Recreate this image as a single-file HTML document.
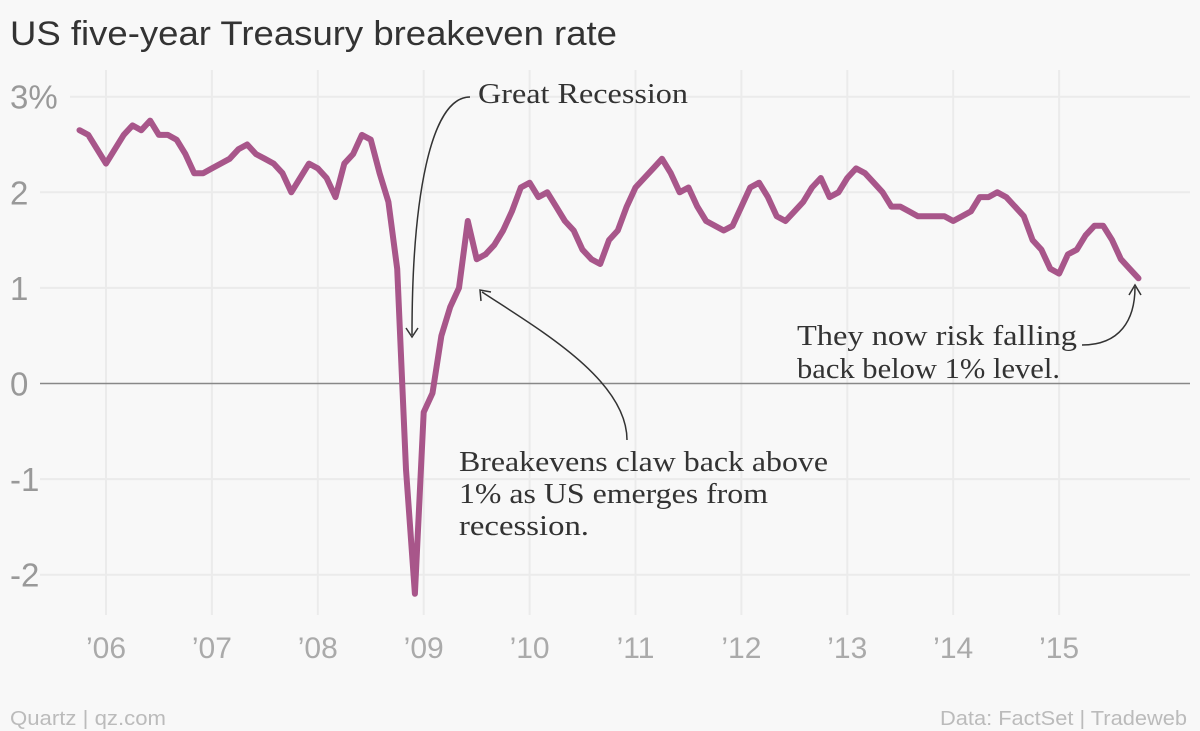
<!DOCTYPE html>
<html><head><meta charset="utf-8"><style>
body{margin:0;background:#f8f8f8;}
svg{display:block;font-family:"Liberation Sans",sans-serif;}
</style></head><body>
<svg id="chart" width="1200" height="731">
<rect width="1200" height="731" fill="#f8f8f8"/>
<text x="10" y="45" font-size="34" fill="#333" textLength="607" lengthAdjust="spacingAndGlyphs">US five-year Treasury breakeven rate</text>
<g id="grid"></g>
<g id="series"></g>
<g id="ann" font-family="Liberation Serif, serif" font-size="29" fill="#333">
<text x="478" y="103" textLength="210" lengthAdjust="spacingAndGlyphs">Great Recession</text>
<path d="M470,97 C430,97 412,200 412,335" fill="none" stroke="#333" stroke-width="1.5"/>
<path d="M406,328 L412,337 L418,328" fill="none" stroke="#333" stroke-width="1.5"/>
<text><tspan x="459" y="471" textLength="369" lengthAdjust="spacingAndGlyphs">Breakevens claw back above</tspan><tspan x="459" y="503" textLength="309" lengthAdjust="spacingAndGlyphs">1% as US emerges from</tspan><tspan x="459" y="535" textLength="130" lengthAdjust="spacingAndGlyphs">recession.</tspan></text>
<path d="M627,440 C627,380 540,330 482,292" fill="none" stroke="#333" stroke-width="1.5"/>
<path d="M481,301 L480,290 L491,292" fill="none" stroke="#333" stroke-width="1.5"/>
<text><tspan x="797" y="345" textLength="280" lengthAdjust="spacingAndGlyphs">They now risk falling</tspan><tspan x="797" y="378" textLength="263" lengthAdjust="spacingAndGlyphs">back below 1% level.</tspan></text>
<path d="M1082,345 C1120,345 1135,320 1135,287" fill="none" stroke="#333" stroke-width="1.5"/>
<path d="M1129,295 L1135,285 L1141,295" fill="none" stroke="#333" stroke-width="1.5"/>
</g>
<text x="10" y="725" font-size="20" fill="#bbb" textLength="156" lengthAdjust="spacingAndGlyphs">Quartz | qz.com</text>
<text x="940" y="725" font-size="20" fill="#bbb" textLength="247" lengthAdjust="spacingAndGlyphs">Data: FactSet | Tradeweb</text>
</svg>
<script>
const startYear = 2005.75;
const values = [2.65,2.6,2.45,
2.3,2.45,2.6,2.7,2.65,2.75,2.6,2.6,2.55,2.4,2.2,2.2,
2.25,2.3,2.35,2.45,2.5,2.4,2.35,2.3,2.2,2.0,2.15,2.3,
2.25,2.15,1.95,2.3,2.4,2.6,2.55,2.2,1.9,1.2,-0.9,-2.2,
-0.3,-0.1,0.5,0.8,1.0,1.7,1.3,1.35,1.45,1.6,1.8,2.05,
2.1,1.95,2.0,1.85,1.7,1.6,1.4,1.3,1.25,1.5,1.6,1.85,
2.05,2.15,2.25,2.35,2.2,2.0,2.05,1.85,1.7,1.65,1.6,1.65,
1.85,2.05,2.1,1.95,1.75,1.7,1.8,1.9,2.05,2.15,1.95,2.0,
2.15,2.25,2.2,2.1,2.0,1.85,1.85,1.8,1.75,1.75,1.75,1.75,
1.7,1.75,1.8,1.95,1.95,2.0,1.95,1.85,1.75,1.5,1.4,1.2,
1.15,1.35,1.4,1.55,1.65,1.65,1.5,1.3,1.2,1.1];
const yTicks = [3,2,1,0,-1,-2];
const yTickLabels = ["3%","2","1","0","-1","-2"];
const xTicks = [2006,2007,2008,2009,2010,2011,2012,2013,2014,2015];
const xTickLabels = ["’06","’07","’08","’09","’10","’11","’12","’13","’14","’15"];
const NS="http://www.w3.org/2000/svg";
const xS = t => 106 + (t-2006)*105.9;
const yS = v => 383.5 - v*95.6;
const grid=document.getElementById('grid');
function mk(tag,attrs,parent){const e=document.createElementNS(NS,tag);for(const k in attrs)e.setAttribute(k,attrs[k]);parent.appendChild(e);return e;}
xTicks.forEach((t,i)=>{
  const l=mk('line',{x1:xS(t),x2:xS(t),y1:70,y2:615,stroke:'#ebebeb','stroke-width':2},grid);
  
  
  const tx=mk('text',{x:xS(t),y:658,'font-size':30,fill:'#aaa','text-anchor':'middle'},grid);
  tx.textContent=xTickLabels[i];
  
  
});
yTicks.forEach((v,i)=>{
  const y=yS(v);
  const x0 = i===0?70:40;
  const l=mk('line',{x1:x0,x2:1190,y1:y,y2:y,stroke:v===0?'#888':'#ebebeb','stroke-width':v===0?1.5:2},grid);
  
  
  const tx=mk('text',{x:10,y:y+12,'font-size':33,fill:'#999'},grid);
  tx.textContent=yTickLabels[i];
  
  
});
const pts=values.map((v,i)=>xS(startYear+i/12).toFixed(1)+','+yS(v).toFixed(1)).join(' ');
const line=mk('polyline',{points:pts,fill:'none',stroke:'#a8568a','stroke-width':6,'stroke-linejoin':'round','stroke-linecap':'round'},document.getElementById('series'));


</script>
</body></html>
